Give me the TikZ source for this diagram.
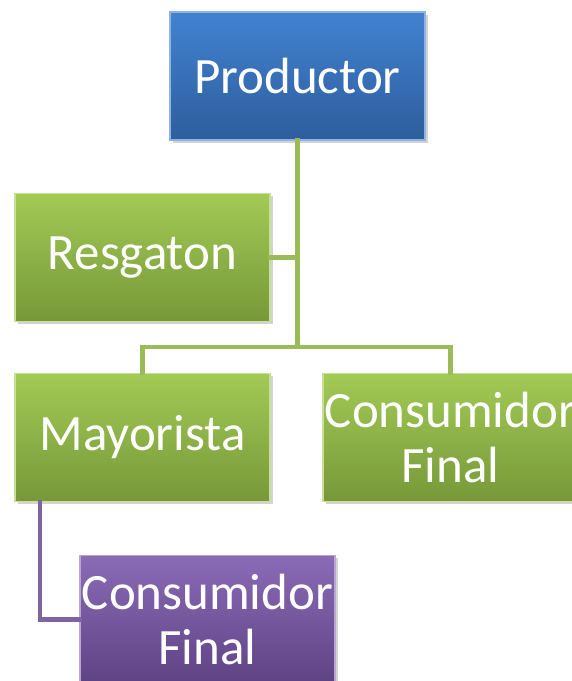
\documentclass[tikz,border=0pt]{standalone}
\usepackage{fontspec}
\setmainfont{Carlito}
\usetikzlibrary{shadows}

\definecolor{prodtop}{HTML}{4282D2}
\definecolor{prodbot}{HTML}{2D5D9C}
\definecolor{greentop}{HTML}{A2CA55}
\definecolor{greenbot}{HTML}{779839}
\definecolor{purptop}{HTML}{8A6BB6}
\definecolor{purpbot}{HTML}{5E4384}
\definecolor{greenline}{HTML}{9BBB59}
\definecolor{purpline}{HTML}{8064A2}

\tikzset{
	box/.style={rectangle, minimum width=5.1cm, minimum height=2.56cm,
		inner sep=0pt, align=center, text=white,
		font=\fontsize{29}{31}\selectfont,
		drop shadow={opacity=0.35, shadow xshift=1.5pt, shadow yshift=-1.5pt}},
	bluebox/.style={box, top color=prodtop, bottom color=prodbot, draw=prodtop!60!white, line width=0.6pt},
	greenbox/.style={box, top color=greentop, bottom color=greenbot, draw=greentop!60!white, line width=0.6pt},
	purplebox/.style={box, top color=purptop, bottom color=purpbot, draw=purptop!60!white, line width=0.6pt},
	greenlink/.style={draw=greenline, line width=2.8pt, line cap=rect},
	purplelink/.style={draw=purpline, line width=2.8pt, line cap=rect}
}

\begin{document}
\begin{tikzpicture}[x=0.02cm, y=-0.02cm]

% page frame
\useasboundingbox (0,0) rectangle (572,681);
\clip (0,0) rectangle (572,681);

% Boxes
\node[bluebox] (prod) at (297.5,76) {Productor};
\node[greenbox] (resg) at (142.5,257.5) {Resgaton};
\node[greenbox] (may) at (142.5,437.5) {Mayorista};
\node[greenbox] (cfa) at (450.5,437.5) {Consumidor\\Final};
\node[purplebox] (cfb) at (207.5,619.5) {Consumidor\\Final};

% Hub of the green tree
\coordinate (hub) at (297.5,347);
\coordinate (down) at (40,502);

% Connectors
\draw[greenlink] (prod.south) -- (hub);
\draw[greenlink] (may.north) |- (hub) -| (cfa.north);
\draw[greenlink] (resg.east) -- (resg.east -| hub);
\draw[purplelink] (down) |- (cfb.west);

\end{tikzpicture}
\end{document}
